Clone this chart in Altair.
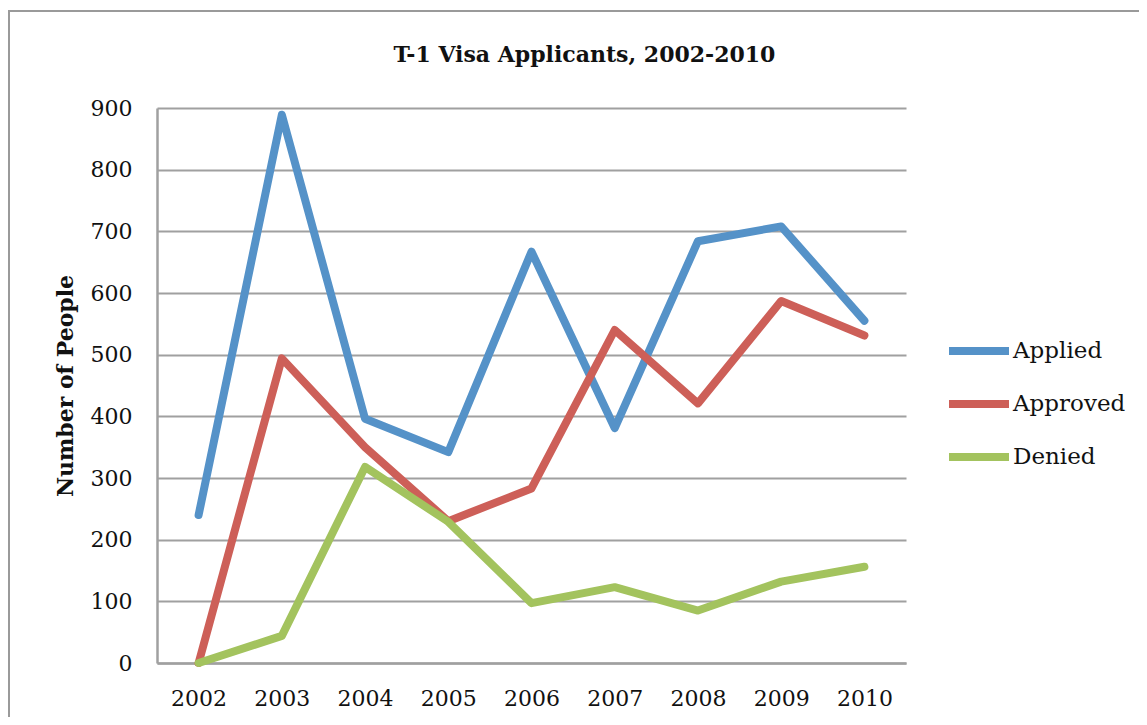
import altair as alt
import pandas as pd

years = ["2002", "2003", "2004", "2005", "2006", "2007", "2008", "2009", "2010"]
applied = [240, 889, 396, 342, 667, 381, 684, 708, 555]
approved = [0, 494, 350, 230, 283, 540, 421, 587, 531]
denied = [0, 44, 318, 229, 97, 123, 85, 132, 156]
series_names = ["Applied", "Approved", "Denied"]
series_colors = ["#5592C8", "#CD5F58", "#A3C35E"]
y_ticks = [0, 100, 200, 300, 400, 500, 600, 700, 800, 900]

rows = []
for name, vals in zip(series_names, [applied, approved, denied]):
    for yr, v in zip(years, vals):
        rows.append({"Year": yr, "Series": name, "People": v})
df = pd.DataFrame(rows)

FONT = "DejaVu Serif"
GRAY = "#A0A0A0"

lines = alt.Chart(df).mark_line(
    strokeWidth=8, strokeJoin="round", strokeCap="round"
).encode(
    x=alt.X("Year:O", sort=years,
            scale=alt.Scale(type="point", padding=0.5),
            axis=alt.Axis(title=None, labelAngle=0, ticks=False, grid=False,
                          domainColor=GRAY, domainWidth=2.5,
                          labelFontSize=22, labelFont=FONT, labelColor="#111111",
                          labelPadding=25)),
    y=alt.Y("People:Q",
            scale=alt.Scale(domain=[0, 900], nice=False),
            axis=alt.Axis(title="Number of People", values=y_ticks, ticks=False,
                          grid=True, gridColor=GRAY, gridWidth=1.8,
                          domainColor=GRAY, domainWidth=2.5,
                          labelFontSize=22, labelFont=FONT, labelColor="#111111",
                          labelPadding=25,
                          titleFont=FONT, titleFontSize=22, titleFontWeight="bold",
                          titleColor="#111111", titleAngle=-90,
                          titleX=-91.5, titleY=277.5, titleAlign="center",
                          titleBaseline="middle")),
    color=alt.Color("Series:N",
                    scale=alt.Scale(domain=series_names, range=series_colors),
                    legend=alt.Legend(title=None, orient="none",
                                      legendX=788, legendY=209,
                                      symbolType="stroke", symbolSize=3600,
                                      symbolStrokeWidth=8,
                                      labelFont=FONT, labelFontSize=23,
                                      labelColor="#111111", labelOffset=0,
                                      rowPadding=3, padding=0)),
)

frame = alt.Chart(pd.DataFrame({"k": [0]})).mark_rect(
    fillOpacity=0, stroke="#9A9A9A", strokeWidth=2
).encode(
    x=alt.value(-148), x2=alt.value(1000),
    y=alt.value(-97), y2=alt.value(700),
)

chart = alt.layer(frame, lines).properties(
    width=749, height=555,
    title=alt.TitleParams(text="T-1 Visa Applicants, 2002-2010",
                          font=FONT, fontSize=22, fontWeight="bold",
                          color="#111111", anchor="middle", frame="group",
                          dx=53, offset=-57),
    autosize=alt.AutoSizeParams(type="none"),
    padding={"left": 149, "top": 100, "right": 233, "bottom": 54},
).configure_view(strokeWidth=0)

chart.save("out.html", embed_options={"renderer": "svg", "actions": False})
